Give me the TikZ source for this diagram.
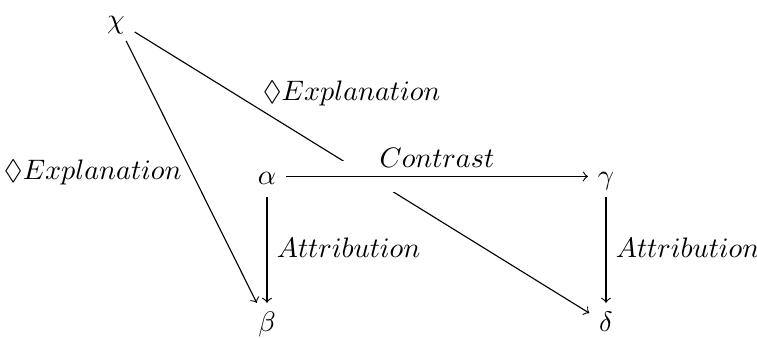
\documentclass[tikz,border=0pt]{standalone}
\usepackage{amsmath,amssymb}
\usepackage{tikz}
\begin{document}
\begin{tikzpicture}[x=0.355pt, y=-0.355pt, >=to, every node/.style={anchor=base, text height=1.5ex, text depth=.25ex}]
  \useasboundingbox (0,0) rectangle (757,337);
  \node (chi) at (116,28) {$\chi$};
  \node (alpha) at (267,184) {$\alpha$};
  \node (gamma) at (606,184) {$\gamma$};
  \node (beta) at (267,331) {$\beta$};
  \node (delta) at (606,331) {$\delta$};
  \draw[->] (chi) -- node[left] {$\Diamond Explanation$} (beta);
  \draw[->] (chi) -- node[pos=0.26, above right, yshift=-3pt] {$\Diamond Explanation$} (delta);
  \draw[->, preaction={draw=white, line width=11pt, -}] (alpha) -- node[above, inner sep=2pt] {$Contrast$} (gamma);
  \draw[->] (alpha) -- node[right] {$Attribution$} (beta);
  \draw[->] (gamma) -- node[right] {$Attribution$} (delta);
\end{tikzpicture}
\end{document}
